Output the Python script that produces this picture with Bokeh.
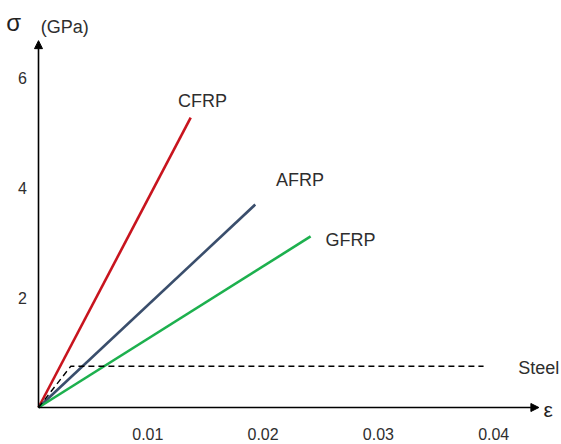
from bokeh.plotting import figure
from bokeh.models import Arrow, NormalHead
from bokeh.core.properties import value
from bokeh.embed import file_html
from bokeh.resources import INLINE

# ---- data ----
materials = ["CFRP", "AFRP", "GFRP"]
strain_end = [0.0132, 0.0188, 0.0236]      # ultimate strain
stress_end = [5.27, 3.69, 3.11]            # ultimate stress (GPa)
colors = ["#C8141E", "#3A4E6C", "#1DB04E"]

steel_strain = [0.0, 0.0028, 0.0386]
steel_stress = [0.0, 0.75, 0.75]

x_ticks = [0.01, 0.02, 0.03, 0.04]
x_tick_labels = ["0.01", "0.02", "0.03", "0.04"]
y_ticks = [2, 4, 6]
y_tick_labels = ["2", "4", "6"]

label_x = [0.0121, 0.0206, 0.0249]
label_y = [5.58, 4.13, 3.05]

FONT = value("Liberation Sans")
TXT = "#2E2E2E"

p = figure(width=561, height=444, output_backend="svg", toolbar_location=None,
           x_range=(-0.003296, 0.045360), y_range=(-0.6727, 7.4),
           x_axis_type=None, y_axis_type=None, min_border=0)
p.grid.visible = False
p.outline_line_color = None
p.background_fill_color = "white"

# material lines
for m, xe, ye, c in zip(materials, strain_end, stress_end, colors):
    p.line([0, xe], [0, ye], line_color=c, line_width=2.6)

# steel
p.line(steel_strain, steel_stress, line_color="black", line_width=1.4, line_dash="6 4")

# axes arrows
p.add_layout(Arrow(x_start=0, y_start=0, x_end=0.0434, y_end=0,
                   line_color="black", line_width=1.6,
                   end=NormalHead(size=8, fill_color="black", line_color="black")))
p.add_layout(Arrow(x_start=0, y_start=0, x_end=0, y_end=6.67,
                   line_color="black", line_width=1.6,
                   end=NormalHead(size=8, fill_color="black", line_color="black")))

# tick labels
p.text(x=x_ticks, y=[-0.49] * 4, text=x_tick_labels, text_font=FONT, text_font_size="16px",
       text_color=TXT, text_align="center", text_baseline="middle", x_offset=-6)
p.text(x=[-0.0010] * 3, y=y_ticks, text=y_tick_labels, text_font=FONT, text_font_size="16px",
       text_color=TXT, text_align="right", text_baseline="middle")

# series labels
p.text(x=label_x, y=label_y, text=materials, text_font=FONT, text_font_size="18px",
       text_color=TXT, text_align="left", text_baseline="middle")
p.text(x=[0.0416], y=[0.71], text=["Steel"], text_font=FONT, text_font_size="18px",
       text_color=TXT, text_align="left", text_baseline="middle")

# axis titles
p.text(x=[-0.0028], y=[7.0], text=["σ"], text_font=FONT, text_font_size="24px",
       text_color="#222222", text_align="left", text_baseline="middle")
p.text(x=[0.0002], y=[6.91], text=["(GPa)"], text_font=FONT, text_font_size="18px",
       text_color=TXT, text_align="left", text_baseline="middle")
p.text(x=[0.0438], y=[-0.03], text=["ε"], text_font=FONT, text_font_size="21px",
       text_color="#222222", text_align="left", text_baseline="middle")

open("out.html", "w").write(file_html(p, INLINE))
